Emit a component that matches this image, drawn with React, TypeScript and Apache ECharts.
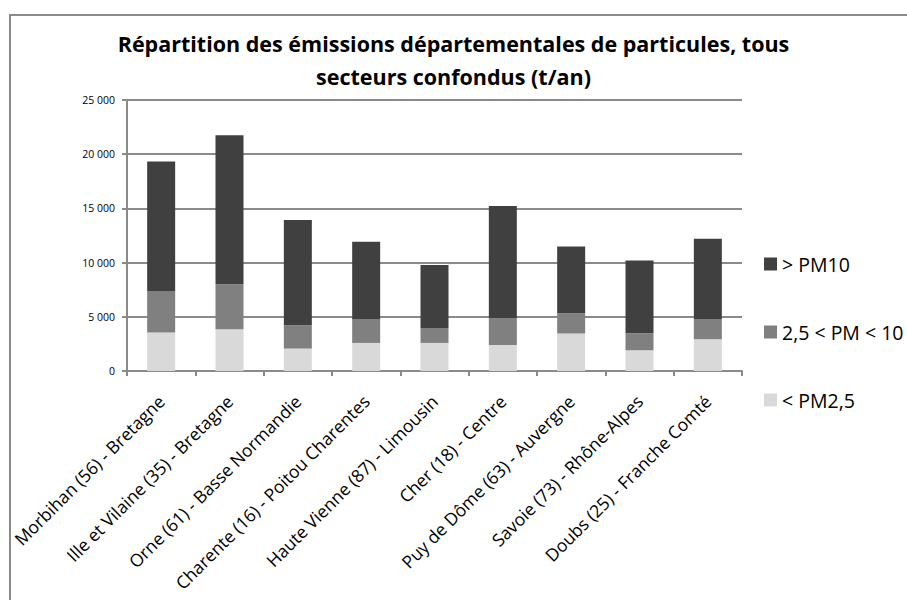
import React, { useEffect, useRef } from "react";
import * as echarts from "echarts";

const categories = [
  "Morbihan (56) - Bretagne",
  "Ille et Vilaine (35) - Bretagne",
  "Orne (61) - Basse Normandie",
  "Charente (16) - Poitou Charentes",
  "Haute Vienne (87) - Limousin",
  "Cher (18) - Centre",
  "Puy de Dôme (63) - Auvergne",
  "Savoie (73) - Rhône-Alpes",
  "Doubs (25) - Franche Comté",
];
const pm25 = [3550, 3850, 2070, 2590, 2590, 2400, 3460, 1910, 2930];
const pm25to10 = [3790, 4160, 2150, 2160, 1360, 2440, 1870, 1570, 1820];
const pm10 = [11980, 13740, 9700, 7170, 5820, 10380, 6160, 6720, 7450];
const seriesNames = ["< PM2,5", "2,5 < PM < 10", "> PM10"];
const legendOrder = ["> PM10", "2,5 < PM < 10", "< PM2,5"];

const FONT = "'Open Sans', Lato, sans-serif";

export default function App() {
  const ref = useRef<HTMLDivElement>(null);
  useEffect(() => {
    if (!ref.current) return;
    const chart = echarts.init(ref.current, null, { renderer: "svg" });
    const fmt = (v: number) =>
      String(v).replace(/\B(?=(\d{3})+(?!\d))/g, " ");
    chart.setOption({
      animation: false,
      backgroundColor: "#ffffff",
      textStyle: { fontFamily: FONT },
      title: {
        text: "Répartition des émissions départementales de particules, tous\nsecteurs confondus (t/an)",
        left: "center",
        top: 22,
        textStyle: {
          fontFamily: FONT,
          fontSize: 21.5,
          fontWeight: "bold",
          color: "#000",
          lineHeight: 33,
        },
      },
      graphic: [
        {
          type: "rect",
          shape: { x: 10, y: 15, width: 920, height: 620 },
          style: { fill: "none", stroke: "#8a8a8a", lineWidth: 2 },
          silent: true,
        },
      ],
      legend: {
        orient: "vertical",
        left: 759,
        top: 249,
        itemWidth: 13,
        itemHeight: 13,
        itemGap: 48,
        icon: "rect",
        data: legendOrder,
        textStyle: { fontFamily: FONT, fontSize: 19.5, lineHeight: 16, color: "#000" },
      },
      grid: { left: 127, right: 165, top: 100, bottom: 229 },
      xAxis: {
        type: "category",
        data: categories,
        axisLine: { lineStyle: { color: "#8a8a8a", width: 2 } },
        axisTick: { show: true, length: 5, lineStyle: { color: "#8a8a8a", width: 2 } },
        axisLabel: {
          rotate: 45,
          interval: 0,
          fontFamily: FONT,
          fontSize: 17.5,
          color: "#000",
          margin: 27,
        },
      },
      yAxis: {
        type: "value",
        min: 0,
        max: 25000,
        interval: 5000,
        axisLine: { show: true, lineStyle: { color: "#8a8a8a", width: 2 } },
        axisTick: { show: true, length: 5, lineStyle: { color: "#8a8a8a", width: 2 } },
        splitLine: { lineStyle: { color: "#8a8a8a", width: 2 } },
        axisLabel: {
          formatter: fmt,
          fontFamily: FONT,
          fontSize: 10.5,
          color: "#000",
          margin: 12,
        },
      },
      series: [
        { name: seriesNames[0], type: "bar", stack: "a", data: pm25, barWidth: 28, itemStyle: { color: "#d9d9d9" } },
        { name: seriesNames[1], type: "bar", stack: "a", data: pm25to10, barWidth: 28, itemStyle: { color: "#808080" } },
        { name: seriesNames[2], type: "bar", stack: "a", data: pm10, barWidth: 28, itemStyle: { color: "#404040" } },
      ],
    });
    return () => chart.dispose();
  }, []);
  return (
    <div
      ref={ref}
      style={{ position: "fixed", left: 0, top: 0, width: 907, height: 600 }}
    />
  );
}
